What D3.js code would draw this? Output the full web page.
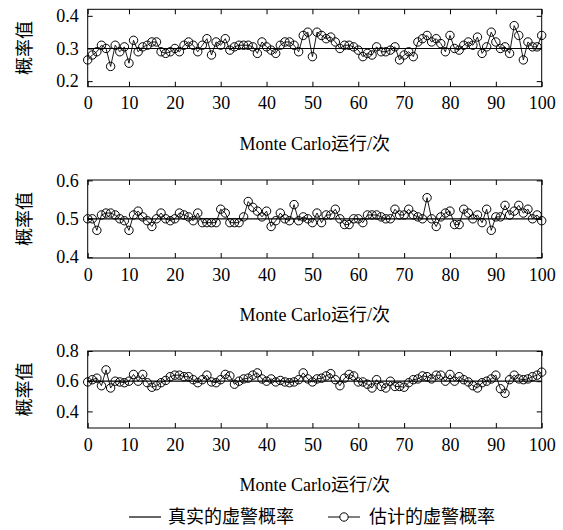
<!DOCTYPE html>
<html><head><meta charset="utf-8">
<script src="https://cdn.jsdelivr.net/npm/d3@7"></script>
<style>
body{margin:0;background:#fff;}
svg text{font-family:"Liberation Serif","Times New Roman","Noto Sans CJK SC",serif;fill:#000;}
</style></head>
<body>
<svg id="chart" width="563" height="530"></svg>
<script>
// ---- data ----
const runs = d3.range(1, 101);           // Monte Carlo run index (plotted 1..100)
const xTickValues = [1,10,20,30,40,50,60,70,80,90,100];
const xTickLabels = ["0","10","20","30","40","50","60","70","80","90","100"];

const true1 = 0.3, true2 = 0.5, true3 = 0.6;
const est1 = [0.265,0.28,0.29,0.31,0.30,0.245,0.31,0.29,0.305,0.255,
 0.325,0.29,0.305,0.31,0.32,0.32,0.29,0.285,0.29,0.30,
 0.29,0.31,0.32,0.31,0.29,0.31,0.33,0.28,0.32,0.31,
 0.33,0.295,0.305,0.31,0.31,0.31,0.305,0.285,0.32,0.305,
 0.295,0.285,0.31,0.32,0.32,0.31,0.29,0.34,0.35,0.275,
 0.35,0.34,0.33,0.335,0.32,0.30,0.31,0.31,0.305,0.295,
 0.275,0.285,0.28,0.305,0.29,0.29,0.295,0.305,0.265,0.28,
 0.29,0.275,0.32,0.33,0.34,0.32,0.33,0.315,0.29,0.34,
 0.30,0.295,0.31,0.32,0.31,0.335,0.285,0.305,0.35,0.32,
 0.30,0.305,0.285,0.37,0.34,0.265,0.32,0.305,0.305,0.34];
const est2 = [0.50,0.50,0.47,0.51,0.515,0.515,0.51,0.50,0.495,0.47,
 0.51,0.52,0.505,0.495,0.48,0.50,0.515,0.50,0.495,0.50,
 0.515,0.51,0.505,0.495,0.515,0.49,0.49,0.49,0.49,0.525,
 0.515,0.49,0.49,0.49,0.505,0.545,0.53,0.52,0.505,0.52,
 0.48,0.495,0.515,0.50,0.495,0.537,0.495,0.505,0.50,0.49,
 0.515,0.49,0.51,0.51,0.525,0.50,0.485,0.485,0.50,0.50,
 0.49,0.51,0.51,0.51,0.505,0.50,0.50,0.525,0.51,0.51,
 0.525,0.51,0.505,0.50,0.555,0.50,0.48,0.505,0.515,0.52,
 0.485,0.485,0.525,0.515,0.50,0.51,0.49,0.525,0.47,0.505,
 0.505,0.535,0.51,0.52,0.535,0.515,0.525,0.50,0.51,0.495];
const est3 = [0.595,0.61,0.62,0.57,0.675,0.555,0.60,0.595,0.59,0.60,
 0.645,0.60,0.645,0.59,0.56,0.57,0.59,0.605,0.63,0.64,
 0.64,0.63,0.63,0.61,0.59,0.61,0.64,0.595,0.59,0.61,
 0.645,0.635,0.58,0.60,0.615,0.62,0.64,0.655,0.615,0.60,
 0.615,0.595,0.605,0.595,0.59,0.595,0.61,0.655,0.615,0.595,
 0.615,0.62,0.635,0.65,0.61,0.57,0.62,0.645,0.635,0.595,
 0.595,0.58,0.555,0.61,0.565,0.555,0.60,0.565,0.565,0.56,
 0.59,0.61,0.615,0.635,0.63,0.615,0.64,0.64,0.60,0.645,
 0.60,0.63,0.61,0.595,0.57,0.555,0.59,0.60,0.615,0.64,
 0.55,0.52,0.61,0.64,0.615,0.61,0.615,0.63,0.64,0.66];

const yTicks1 = [0.2,0.3,0.4], yTicks2 = [0.4,0.5,0.6], yTicks3 = [0.4,0.6,0.8];
const xTitle = "Monte Carlo运行/次";
const yTitle = "概率值";
const legendLabels = ["真实的虚警概率","估计的虚警概率"];

// ---- drawing ----
const svg = d3.select("#chart");
const x = d3.scaleLinear().domain([1,100]).range([87.7,541.7]);

const panels = [
  {est: est1, tru: true1, dom:[0.183,0.42], rng:[86.7,9.3], ticks:yTicks1},
  {est: est2, tru: true2, dom:[0.398,0.601], rng:[258,180], ticks:yTicks2},
  {est: est3, tru: true3, dom:[0.29,0.8], rng:[428,351], ticks:yTicks3}
];
const FS = 18;

panels.forEach((p) => {
  const y = d3.scaleLinear().domain(p.dom).range(p.rng);
  const g = svg.append("g");
  const x0 = x.range()[0], x1 = x.range()[1];
  const yb = p.rng[0], yt = p.rng[1];

  // axes
  const fmtX = (d) => xTickLabels[xTickValues.indexOf(d)];
  const bottom = g.append("g").attr("transform",`translate(0,${yb})`)
    .call(d3.axisBottom(x).tickValues(xTickValues).tickFormat(fmtX).tickSizeInner(-5).tickSizeOuter(0).tickPadding(10));
  const top = g.append("g").attr("transform",`translate(0,${yt})`)
    .call(d3.axisTop(x).tickValues(xTickValues).tickFormat("").tickSizeInner(-5).tickSizeOuter(0));
  const left = g.append("g").attr("transform",`translate(${x0},0)`)
    .call(d3.axisLeft(y).tickValues(p.ticks).tickFormat(d3.format(".1f")).tickSizeInner(-5).tickSizeOuter(0).tickPadding(9));
  const right = g.append("g").attr("transform",`translate(${x1},0)`)
    .call(d3.axisRight(y).tickValues(p.ticks).tickFormat("").tickSizeInner(-5).tickSizeOuter(0));
  [bottom,top,left,right].forEach(a => {
    a.select(".domain").remove();
    a.selectAll("line").attr("stroke","#000").attr("stroke-width",1);
    a.selectAll("text").attr("font-size",FS).attr("font-family",null);
  });

  // true line
  g.append("path")
    .datum(runs)
    .attr("fill","none").attr("stroke","#000").attr("stroke-width",1.2)
    .attr("d", d3.line().x(d => x(d)).y(() => y(p.tru)));

  // estimated line
  g.append("path")
    .datum(p.est)
    .attr("fill","none").attr("stroke","#000").attr("stroke-width",0.9)
    .attr("d", d3.line().x((d,i) => x(runs[i])).y(d => y(d)));

  g.selectAll("circle.m").data(p.est).enter().append("circle")
    .attr("class","m")
    .attr("cx",(d,i) => x(runs[i])).attr("cy", d => y(d)).attr("r",4.2)
    .attr("fill","none").attr("stroke","#000").attr("stroke-width",1);

  // frame
  g.append("rect").attr("x",x0).attr("y",yt).attr("width",x1-x0).attr("height",yb-yt)
    .attr("fill","none").attr("stroke","#000").attr("stroke-width",1);

  // titles
  g.append("text").attr("x",(x0+x1)/2).attr("y",yb+63).attr("text-anchor","middle")
    .attr("font-size",FS).text(xTitle);
  g.append("text").attr("transform",`translate(31,${(yb+yt)/2}) rotate(-90)`)
    .attr("text-anchor","middle").attr("font-size",FS).text(yTitle);
});

// legend
const ly = 517;
const lg = svg.append("g");
lg.append("line").attr("x1",129).attr("x2",161).attr("y1",ly).attr("y2",ly).attr("stroke","#000").attr("stroke-width",1.2);
lg.append("text").attr("x",168).attr("y",ly+6).attr("font-size",FS).text(legendLabels[0]);
lg.append("line").attr("x1",328).attr("x2",360).attr("y1",ly).attr("y2",ly).attr("stroke","#000").attr("stroke-width",1);
lg.append("circle").attr("cx",344).attr("cy",ly).attr("r",4.2).attr("fill","#fff").attr("stroke","#000");
lg.append("text").attr("x",369).attr("y",ly+6).attr("font-size",FS).text(legendLabels[1]);
</script>
</body></html>
